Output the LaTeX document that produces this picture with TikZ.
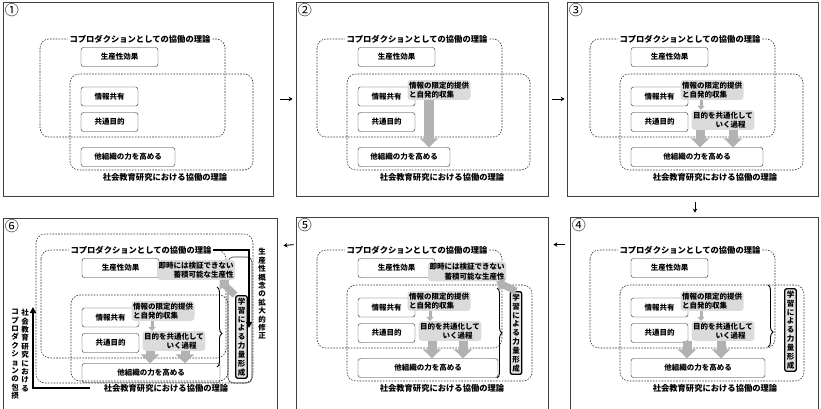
\documentclass[tikz,border=0pt]{standalone}
\usepackage{fontspec}
\setmainfont{Noto Sans CJK JP}
\usetikzlibrary{arrows.meta,calc,decorations.pathreplacing}

\begin{document}
\begin{tikzpicture}[x=1pt, y=-1pt,
  frame/.style={draw=black!75, line width=0.8pt},
  num/.style={anchor=north west, inner sep=2pt, font=\fontsize{14}{14}\selectfont},
  zone/.style={draw=black!80, line width=0.6pt, dash pattern=on 1.6pt off 1.3pt, rounded corners=9pt},
  box/.style={draw=black!85, rounded corners=2.5pt, minimum height=19pt, inner sep=1pt, font=\bfseries\fontsize{7.5}{9}\selectfont},
  ttl/.style={fill=white, inner sep=1.5pt, font=\bfseries\fontsize{8.3}{10}\selectfont},
  note/.style={fill=gray!28, rounded corners=3pt, inner sep=1.5pt, align=left, font=\bfseries\fontsize{7.5}{9.5}\selectfont},
  learnbox/.style={draw, line width=1.3pt, fill=gray!22, rounded corners=2pt, inner sep=2pt, align=center, font=\bfseries\fontsize{7.5}{8.9}\selectfont},
  vlabel/.style={align=center, inner sep=0pt, font=\bfseries\fontsize{7.5}{8.4}\selectfont},
  flowarr/.style={-{Stealth[length=4pt,width=4.5pt]}, line width=0.9pt},
  fatarr/.style={draw=gray!60, line width=9pt, -{Triangle[width=18pt,length=9pt]}},
  smallarr/.style={draw=gray!60, line width=3pt, -{Triangle[width=7pt,length=4pt]}},
  blkarr/.style={line width=1.6pt, -{Triangle[width=6pt,length=6pt]}},
  brc/.style={decorate, line width=0.9pt}
]
\useasboundingbox (0,0) rectangle (821,408);
\clip (0,0) rectangle (821,408);

% panel frames
\node[frame, minimum width=270pt, minimum height=194pt] (f1) at (138,99) {};
\node[frame, minimum width=252pt, minimum height=194pt] (f2) at (422,99) {};
\node[frame, minimum width=251pt, minimum height=194pt] (f3) at (692.5,99) {};
\node[frame, minimum width=248pt, minimum height=195pt] (f4) at (694,314.5) {};
\node[frame, minimum width=252pt, minimum height=195pt] (f5) at (422,314.5) {};
\node[frame, minimum width=274pt, minimum height=194pt] (f6) at (140,315) {};

\node[num] (n1) at (f1.north west) {①};
\node[num] (n2) at (f2.north west) {②};
\node[num] (n3) at (f3.north west) {③};
\node[num] (n4) at (f4.north west) {④};
\node[num] (n5) at (f5.north west) {⑤};
\node[num] (n6) at (f6.north west) {⑥};

\draw[flowarr] ([xshift=7pt]f1.east) -- ([xshift=-3pt]f2.west);
\draw[flowarr] ([xshift=4pt]f2.east) -- ([xshift=-2pt]f3.west);
\draw[flowarr] ([xshift=2.5pt,yshift=-6pt]f3.south) -- ([xshift=1pt,yshift=4pt]f4.north);
\draw[flowarr] ([xshift=-5pt,yshift=-28pt]f4.north west) -- ([xshift=5pt,yshift=-28pt]f5.north east);
\draw[flowarr] ([xshift=-2pt,yshift=-28pt]f5.north west) -- ([xshift=6pt,yshift=-28pt]f6.north east);

% common content of every panel
\foreach \i/\ox/\oy/\ow/\dm/\sr in {1/19/2/94/0/234, 2/296/2/92/0/234, 3/569/2/132/0/234,
    4/569/213/134/0/235, 5/296/213/140/0/236, 6/20/213/138/10/208} {
  \begin{scope}[shift={(\ox,\oy)}, name prefix=p\i-]
    \draw[zone] (21,37) rectangle (206,135+\dm);
    \draw[zone] (51,72+\dm) rectangle (\sr,168);
    \node[ttl] (copro) at (121,37) {コプロダクションとしての協働の理論};
    \node[box, minimum width=77pt] (prod) at (100.5,55) {生産性効果};
    \node[box, minimum width=57pt] (info) at (90.5,94.5+\dm) {情報共有};
    \node[box, minimum width=57pt] (goal) at (90.5,120+\dm) {共通目的};
    \node[box, minimum width=\ow] (oth) at (62+\ow/2,155+\dm/2) {他組織の力を高める};
    \node[ttl] (soc) at (146,175) {社会教育研究における協働の理論};
  \end{scope}
}

% panel 2
\begin{scope}[shift={(296,2)}, name prefix=p2-]
  \node[note] (limit) at (143,88) {情報の限定的提供\\と自発的収集};
  \coordinate (a0) at (133,0);
  \draw[fatarr, line width=10pt] (limit.south -| a0) -- (oth.north -| a0);
\end{scope}

% panel 3
\begin{scope}[shift={(569,2)}, name prefix=p3-]
  \node[note] (limit) at (143,88) {情報の限定的提供\\と自発的収集};
  \node[note] (common) at (154,118) {目的を共通化して\\\hspace*{3em}いく過程};
  \coordinate (a0) at (132,0);
  \coordinate (a1) at (131,0);
  \coordinate (a2) at (164,0);
  \draw[smallarr] (limit.south -| a0) -- (common.north -| a0);
  \draw[fatarr] (common.south -| a1) -- (oth.north -| a1);
  \draw[fatarr] (common.south -| a2) -- (oth.north -| a2);
\end{scope}

% panel 4
\begin{scope}[shift={(569,213)}, name prefix=p4-]
  \node[note] (limit) at (143,88) {情報の限定的提供\\と自発的収集};
  \node[note] (common) at (154,118) {目的を共通化して\\\hspace*{3em}いく過程};
  \coordinate (a0) at (132,0);
  \coordinate (a1) at (118,0);
  \coordinate (a2) at (152,0);
  \draw[smallarr] (limit.south -| a0) -- (common.north -| a0);
  \draw[fatarr] (common.south -| a1) -- (oth.north -| a1);
  \draw[fatarr] (common.south -| a2) -- (oth.north -| a2);
  \draw[brc, decoration={brace, amplitude=5pt, aspect=0.76}] (199,72) -- (199,134);
  \node[learnbox, minimum height=80pt] (learn) at (221.5,117) {学\\習\\に\\よ\\る\\力\\量\\形\\成};
\end{scope}

% panel 5
\begin{scope}[shift={(296,213)}, name prefix=p5-]
  \node[note, align=right] (delay) at (171,58.5) {即時には検証できない\\蓄積可能な生産性};
  \node[note] (limit) at (143,88) {情報の限定的提供\\と自発的収集};
  \node[note] (common) at (154,118) {目的を共通化して\\\hspace*{3em}いく過程};
  \coordinate (a0) at (134,0);
  \coordinate (a1) at (136,0);
  \coordinate (a2) at (167,0);
  \draw[smallarr] (limit.south -| a0) -- (common.north -| a0);
  \draw[fatarr] (common.south -| a1) -- (oth.north -| a1);
  \draw[fatarr] (common.south -| a2) -- (oth.north -| a2);
  \draw[brc, decoration={brace, amplitude=5pt, aspect=0.5}] (201,75) -- (201,165);
  \node[learnbox, minimum height=80pt] (learn) at (220,120) {学\\習\\に\\よ\\る\\力\\量\\形\\成};
  \draw[fatarr, line width=7pt, -{Triangle[width=14pt,length=7pt]}] (learn.north) -- ($(delay.south)!0.75!(delay.south east)$);
\end{scope}

% panel 6
\begin{scope}[shift={(20,213)}, name prefix=p6-]
  \draw[zone] (16,21) rectangle (233,170);
  \draw[black!80, line width=0.6pt, rounded corners=5pt] (208,44) rectangle (232,170);
  \node[note, align=right] (delay) at (176,57) {即時には検証できない\\蓄積可能な生産性};
  \node[note] (limit) at (143,98) {情報の限定的提供\\と自発的収集};
  \node[note] (common) at (154,128) {目的を共通化して\\\hspace*{3em}いく過程};
  \coordinate (a0) at (132,0);
  \coordinate (a1) at (130,0);
  \coordinate (a2) at (165,0);
  \draw[smallarr] (limit.south -| a0) -- (common.north -| a0);
  \draw[fatarr] (common.south -| a1) -- (oth.north -| a1);
  \draw[fatarr] (common.south -| a2) -- (oth.north -| a2);
  \draw[brc, decoration={brace, amplitude=5pt, aspect=0.58}] (197,74) -- (197,154);
  \node[learnbox, minimum height=80pt] (learn) at (221.5,124) {学\\習\\に\\よ\\る\\力\\量\\形\\成};
  \draw[fatarr, line width=7pt, -{Triangle[width=14pt,length=7pt]}] (learn.north west) -- ($(delay.south)!0.6!(delay.south east)$);
  % widening of the productivity concept
  \coordinate (rvend) at (229,115);
  \draw[blkarr] (copro.east) -| (rvend);
  \node[vlabel] (widen) at (242,81) {生\\産\\性\\概\\念\\の\\拡\\大\\的\\修\\正};
  % inclusion of coproduction
  \coordinate (lvend) at (13,94);
  \draw[blkarr] ([xshift=-12pt]soc.west) -| (lvend);
  \node[vlabel, anchor=north] (incl1) at (5,96) {社\\会\\教\\育\\研\\究\\に\\お\\け\\る};
  \node[vlabel, anchor=north] (incl2) at (-5,96) {コ\\プ\\ロ\\ダ\\ク\\シ\\ョ\\ン\\の\\包\\摂};
\end{scope}

\end{tikzpicture}
\end{document}
